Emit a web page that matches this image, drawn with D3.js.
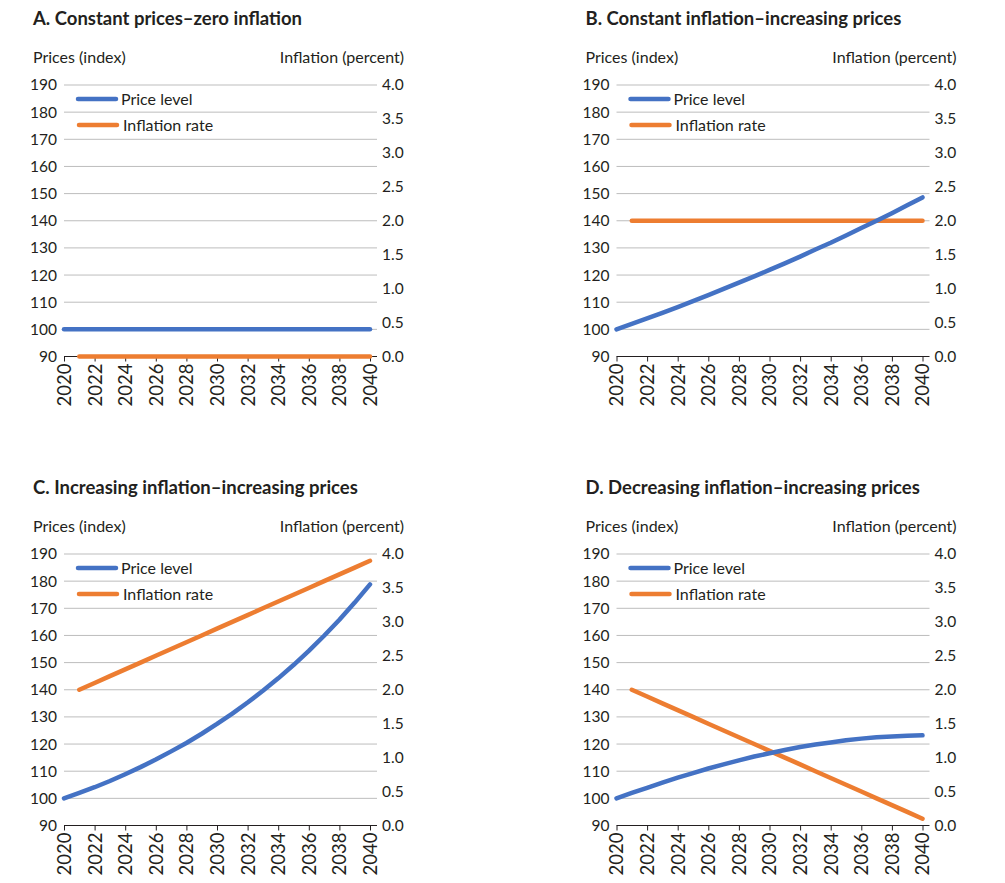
<!DOCTYPE html>
<html>
<head>
<meta charset="utf-8">
<script src="https://cdn.jsdelivr.net/npm/d3@7"></script>
<style>
  body { margin: 0; background: #fff; }
  svg { font-family: Lato, "Noto Sans", sans-serif; fill: #231f20; }
</style>
</head>
<body>
<svg id="chart" width="1005" height="883"></svg>
<script>
// years on the x axis, inflation starts one year later
const years = [2020, 2021, 2022, 2023, 2024, 2025, 2026, 2027, 2028, 2029, 2030,
  2031, 2032, 2033, 2034, 2035, 2036, 2037, 2038, 2039, 2040];
const inflYears = years.slice(1);
const yearTicks = [2020, 2022, 2024, 2026, 2028, 2030, 2032, 2034, 2036, 2038, 2040];
const priceTicks = [90, 100, 110, 120, 130, 140, 150, 160, 170, 180, 190];
const inflTicks = [0, 0.5, 1, 1.5, 2, 2.5, 3, 3.5, 4];

const titles = [
  "A. Constant prices\u2013zero inflation",
  "B. Constant inflation\u2013increasing prices",
  "C. Increasing inflation\u2013increasing prices",
  "D. Decreasing inflation\u2013increasing prices"
];

const priceA = [100, 100, 100, 100, 100, 100, 100, 100, 100, 100, 100,
  100, 100, 100, 100, 100, 100, 100, 100, 100, 100];
const inflA = [0, 0, 0, 0, 0, 0, 0, 0, 0, 0, 0, 0, 0, 0, 0, 0, 0, 0, 0, 0];

const priceB = [100, 102.0, 104.0, 106.1, 108.2, 110.4, 112.6, 114.9, 117.2, 119.5, 121.9,
  124.3, 126.8, 129.4, 131.9, 134.6, 137.3, 140.0, 142.8, 145.7, 148.6];
const inflB = [2, 2, 2, 2, 2, 2, 2, 2, 2, 2, 2, 2, 2, 2, 2, 2, 2, 2, 2, 2];

const priceC = [100, 102.0, 104.1, 106.4, 108.9, 111.5, 114.3, 117.3, 120.4, 123.8, 127.4,
  131.2, 135.3, 139.6, 144.2, 149.1, 154.3, 159.9, 165.8, 172.1, 178.8];
const inflC = [2.0, 2.1, 2.2, 2.3, 2.4, 2.5, 2.6, 2.7, 2.8, 2.9, 3.0,
  3.1, 3.2, 3.3, 3.4, 3.5, 3.6, 3.7, 3.8, 3.9];

const priceD = [100, 102.0, 103.9, 105.8, 107.6, 109.3, 111.0, 112.5, 114.0, 115.4, 116.6,
  117.8, 118.9, 119.8, 120.6, 121.4, 122.0, 122.5, 122.8, 123.1, 123.2];
const inflD = [2.0, 1.9, 1.8, 1.7, 1.6, 1.5, 1.4, 1.3, 1.2, 1.1, 1.0,
  0.9, 0.8, 0.7, 0.6, 0.5, 0.4, 0.3, 0.2, 0.1];

const panels = [
  { title: titles[0], price: priceA, infl: inflA, dx: 0, dy: 0 },
  { title: titles[1], price: priceB, infl: inflB, dx: 552.5, dy: 0 },
  { title: titles[2], price: priceC, infl: inflC, dx: 0, dy: 469 },
  { title: titles[3], price: priceD, infl: inflD, dx: 552.5, dy: 469 }
];

const blue = "#4472c4";
const orange = "#ed7d31";

const plotLeft = 64, plotRight = 377, plotTop = 85, plotBottom = 356.5;

const x = d3.scaleLinear().domain([2020, 2040]).range([plotLeft, 370]);
const yP = d3.scaleLinear().domain([90, 190]).range([plotBottom, plotTop]);
const yI = d3.scaleLinear().domain([0, 4]).range([plotBottom, plotTop]);

const svg = d3.select("#chart");

panels.forEach(p => {
  const g = svg.append("g").attr("transform", `translate(${p.dx},${p.dy})`);

  g.append("text")
    .attr("x", 33).attr("y", 25)
    .style("font-size", "18.5px").style("font-weight", "bold")
    .text(p.title);

  g.append("text")
    .attr("x", 33).attr("y", 63)
    .style("font-size", "16px")
    .text("Prices (index)");

  g.append("text")
    .attr("x", 404).attr("y", 63)
    .style("font-size", "16px").style("text-anchor", "end")
    .text("Inflation (percent)");

  // gridlines
  g.append("g").selectAll("line")
    .data(priceTicks.slice(1))
    .join("line")
      .attr("x1", plotLeft).attr("x2", plotRight)
      .attr("y1", d => yP(d)).attr("y2", d => yP(d))
      .attr("stroke", "#bdbdbd").attr("stroke-width", 1);

  // left axis labels
  const yAxisL = g.append("g")
    .attr("transform", `translate(${plotLeft},0)`)
    .call(d3.axisLeft(yP).tickValues(priceTicks).tickSize(0).tickPadding(7));
  yAxisL.select(".domain").remove();
  yAxisL.selectAll("text").style("font-size", "15.5px").attr("fill", "#231f20")
    .style("font-family", "Lato");

  // right axis labels
  const yAxisR = g.append("g")
    .attr("transform", `translate(${plotRight},0)`)
    .call(d3.axisRight(yI).tickValues(inflTicks).tickSize(0).tickPadding(5)
      .tickFormat(d3.format(".1f")));
  yAxisR.select(".domain").remove();
  yAxisR.selectAll("text").style("font-size", "15.5px").attr("fill", "#231f20")
    .style("font-family", "Lato");

  // x axis
  const xAxis = g.append("g")
    .attr("transform", `translate(0,${plotBottom})`)
    .call(d3.axisBottom(x).tickValues(yearTicks).tickSize(5).tickSizeOuter(0)
      .tickFormat(d3.format("d")));
  xAxis.select(".domain").attr("d", `M${plotLeft},0H${plotRight}`).attr("stroke", "#231f20");
  xAxis.selectAll(".tick line").attr("stroke", "#231f20");
  xAxis.selectAll("text")
    .style("font-size", "18.5px").style("font-family", "Lato")
    .attr("fill", "#231f20")
    .style("text-anchor", "end")
    .attr("transform", "rotate(-90)")
    .attr("x", -7).attr("y", 0).attr("dy", "0.35em");

  // series
  g.append("path")
    .datum(p.infl.map((v, i) => [inflYears[i], v]))
    .attr("fill", "none").attr("stroke", orange).attr("stroke-width", 4.5)
    .attr("stroke-linecap", "round").attr("stroke-linejoin", "round")
    .attr("d", d3.line().x(d => x(d[0])).y(d => yI(d[1])));

  g.append("path")
    .datum(p.price.map((v, i) => [years[i], v]))
    .attr("fill", "none").attr("stroke", blue).attr("stroke-width", 4.5)
    .attr("stroke-linecap", "round").attr("stroke-linejoin", "round")
    .attr("d", d3.line().x(d => x(d[0])).y(d => yP(d[1])));

  // legend
  const legend = [
    { label: "Price level", color: blue, x1: 78, x2: 116, y: 99, tx: 121 },
    { label: "Inflation rate", color: orange, x1: 79, x2: 117, y: 125, tx: 123 }
  ];
  legend.forEach(l => {
    g.append("line")
      .attr("x1", l.x1).attr("x2", l.x2).attr("y1", l.y).attr("y2", l.y)
      .attr("stroke", l.color).attr("stroke-width", 4.5).attr("stroke-linecap", "round");
    g.append("text")
      .attr("x", l.tx).attr("y", l.y + 6)
      .style("font-size", "16px")
      .text(l.label);
  });
});
</script>
</body>
</html>
